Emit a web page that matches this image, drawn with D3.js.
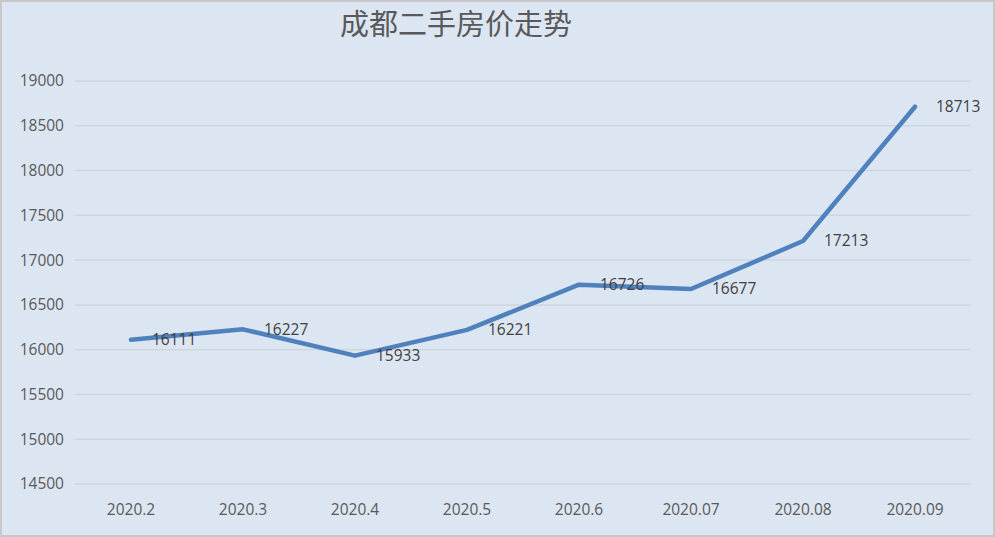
<!DOCTYPE html>
<html>
<head>
<meta charset="utf-8">
<script src="https://cdn.jsdelivr.net/npm/d3@7"></script>
<style>
  body { margin: 0; background: #fff; }
  svg { display: block; }
  .tick-label { font-family: "Open Sans", "Noto Sans", sans-serif; font-size: 15.5px; fill: #595959; }
  .value-label { font-family: "Open Sans", "Noto Sans", sans-serif; font-size: 15.5px; fill: #404040; }
  .chart-title { font-family: "Noto Sans CJK SC", sans-serif; font-size: 29px; fill: #595959; }
</style>
</head>
<body>
<div id="chart"></div>
<script>
// data
var months = ['2020.2', '2020.3', '2020.4', '2020.5', '2020.6', '2020.07', '2020.08', '2020.09'];
var prices = [16111, 16227, 15933, 16221, 16726, 16677, 17213, 18713];
var yTicks = [14500, 15000, 15500, 16000, 16500, 17000, 17500, 18000, 18500, 19000];
var title = '成都二手房价走势';

var W = 995, H = 537;
var margin = { top: 81, right: 24, bottom: 53, left: 75 };

var svg = d3.select('#chart')
    .append('svg')
    .attr('width', W)
    .attr('height', H);

// background + border
svg.append('rect')
    .attr('x', 1).attr('y', 1)
    .attr('width', W - 2).attr('height', H - 2)
    .attr('fill', '#dce6f2')
    .attr('stroke', '#c8c8c8')
    .attr('stroke-width', 2);

var x = d3.scalePoint()
    .domain(months)
    .range([margin.left, W - margin.right])
    .padding(0.5);

var y = d3.scaleLinear()
    .domain([14500, 19000])
    .range([H - margin.bottom, margin.top]);

// gridlines
svg.append('g')
    .selectAll('line')
    .data(yTicks)
    .join('line')
    .attr('x1', margin.left)
    .attr('x2', W - margin.right)
    .attr('y1', d => y(d))
    .attr('y2', d => y(d))
    .attr('stroke', '#cfd5dc')
    .attr('stroke-width', 1.5);

// y tick labels
svg.append('g')
    .selectAll('text')
    .data(yTicks)
    .join('text')
    .classed('tick-label', true)
    .attr('x', margin.left - 11)
    .attr('y', d => y(d))
    .attr('dy', '0.35em')
    .attr('text-anchor', 'end')
    .text(d => d);

// x tick labels
svg.append('g')
    .selectAll('text')
    .data(months)
    .join('text')
    .classed('tick-label', true)
    .attr('x', d => x(d))
    .attr('y', H - margin.bottom + 26)
    .attr('dy', '0.35em')
    .attr('text-anchor', 'middle')
    .text(d => d);

// line
var line = d3.line()
    .x((d, i) => x(months[i]))
    .y(d => y(d));

svg.append('path')
    .datum(prices)
    .attr('d', line)
    .attr('fill', 'none')
    .attr('stroke', '#4f81bd')
    .attr('stroke-width', 4.5)
    .attr('stroke-linejoin', 'round')
    .attr('stroke-linecap', 'round');

// value labels, right of each point
svg.append('g')
    .selectAll('text')
    .data(prices)
    .join('text')
    .classed('value-label', true)
    .attr('x', (d, i) => x(months[i]) + 21)
    .attr('y', d => y(d))
    .attr('dy', '0.35em')
    .text(d => d);

// title
svg.append('text')
    .classed('chart-title', true)
    .attr('x', 456)
    .attr('y', 25)
    .attr('dy', '0.35em')
    .attr('text-anchor', 'middle')
    .text(title);
</script>
</body>
</html>
